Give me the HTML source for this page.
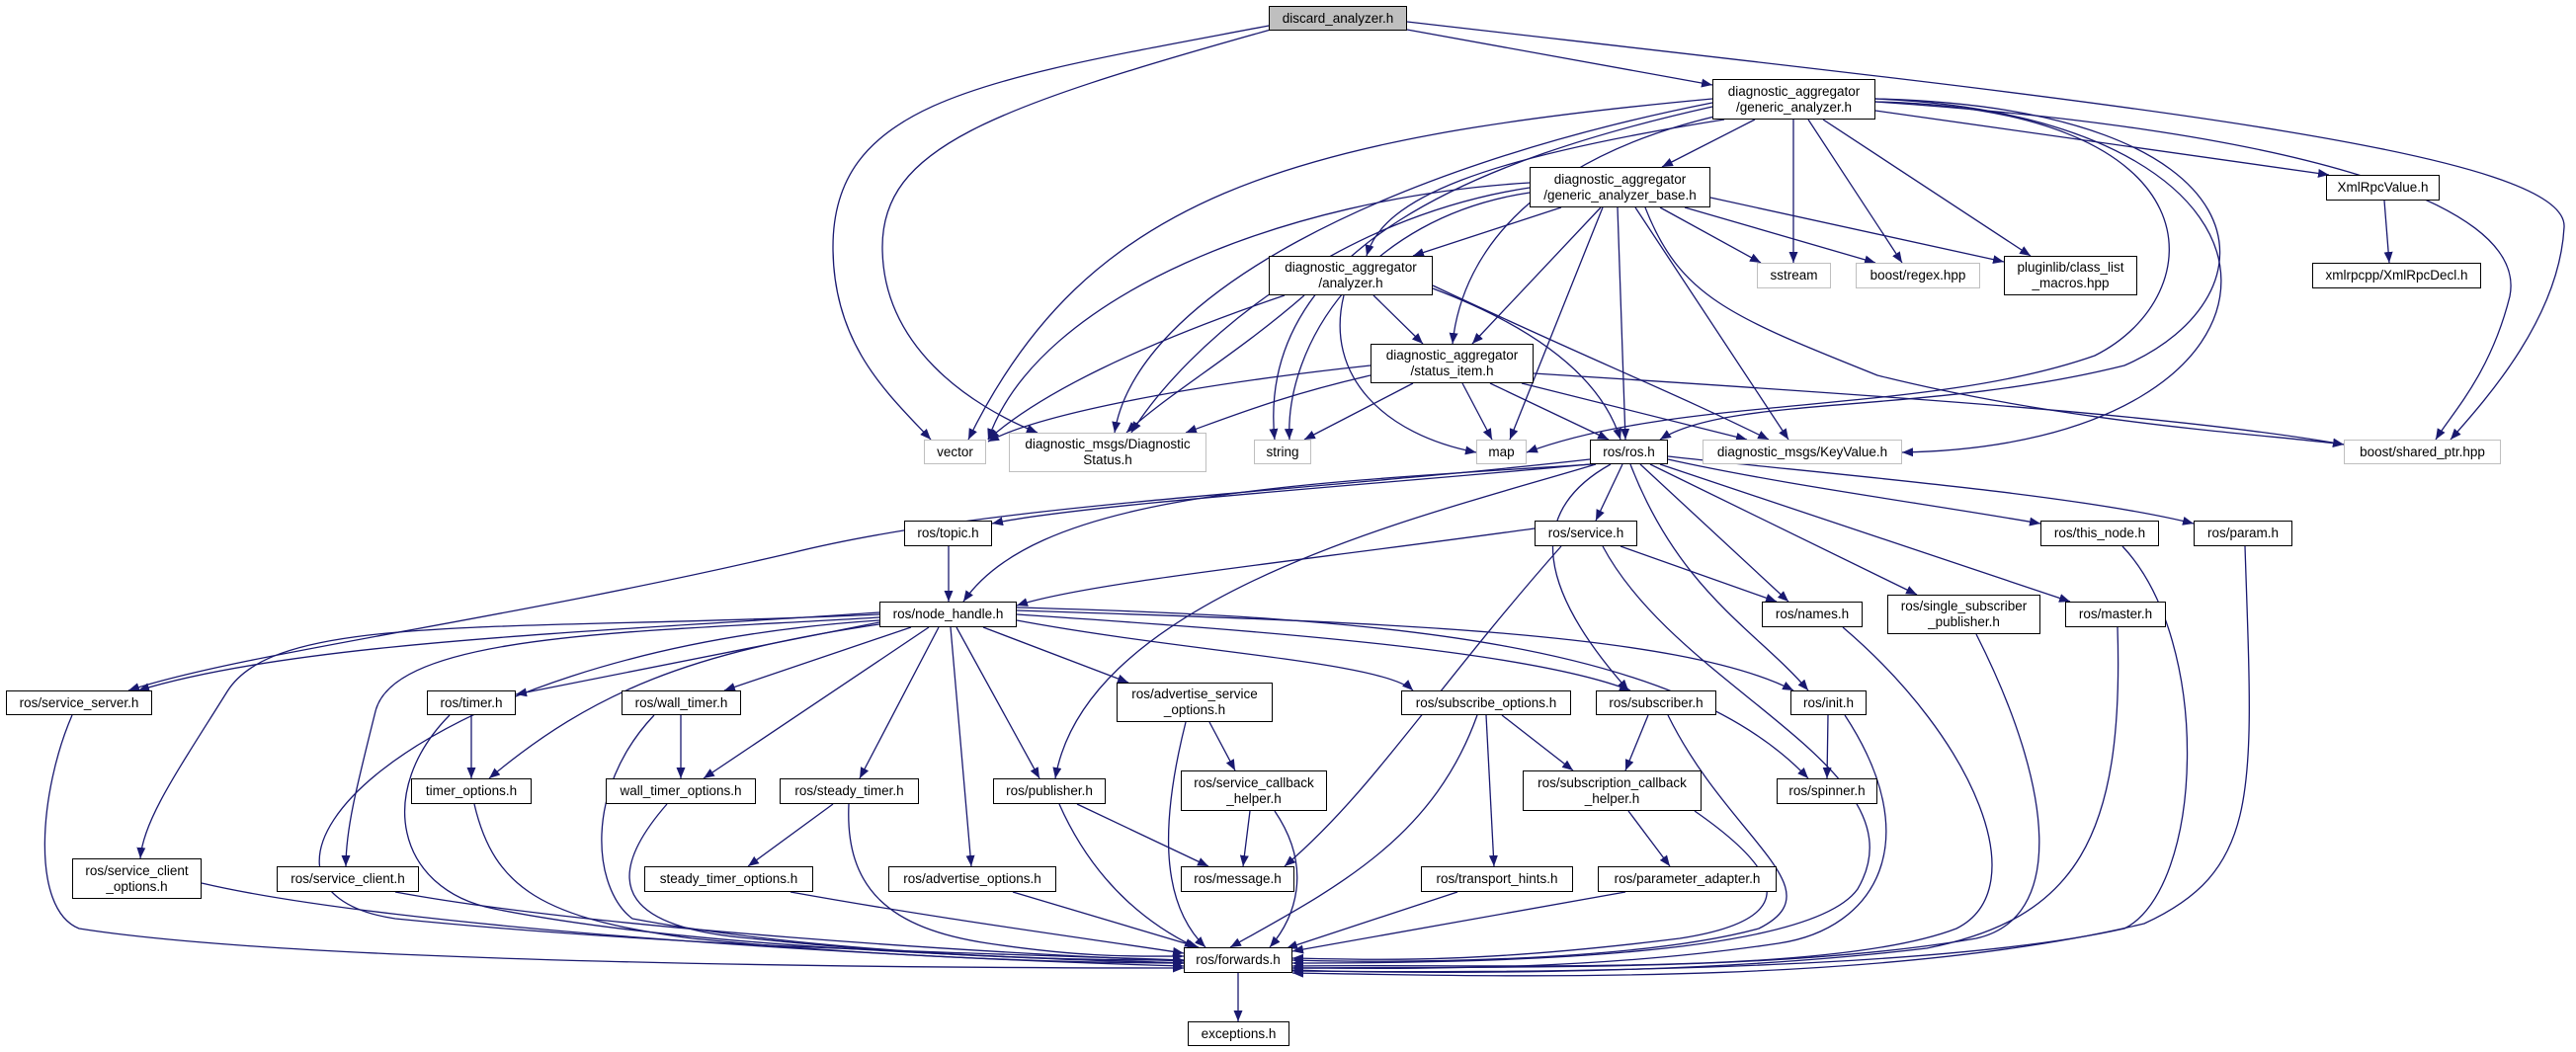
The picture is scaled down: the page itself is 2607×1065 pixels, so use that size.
<!DOCTYPE html>
<html><head><meta charset="utf-8">
<style>
html,body{margin:0;padding:0;background:#fff;}
#c{position:relative;width:2607px;height:1065px;overflow:hidden;font-family:"Liberation Sans",sans-serif;}
svg{position:absolute;left:0;top:0;}
.n{position:absolute;box-sizing:border-box;border:1.5px solid #000;background:#fff;display:flex;align-items:center;justify-content:center;text-align:center;font-size:13.5px;line-height:16px;color:#000;white-space:nowrap;}
.g{border-color:#bfbfbf;}
</style></head><body><div id="c">
<svg width="2607" height="1065" viewBox="0 0 2607 1065">
<defs><marker id="a" markerUnits="userSpaceOnUse" markerWidth="12" markerHeight="10" refX="11" refY="4.5" orient="auto"><path d="M0,0 L11,4.5 L0,9 z" fill="#191970"/></marker></defs>
<g fill="none" stroke="#191970" stroke-width="1.3" marker-end="url(#a)">
<path d="M1424,30 L1733,86"/>
<path d="M1284,26 C1000,80 843,100 843,250 C843,350 900,400 942,445"/>
<path d="M1286,30 C1000,110 893,150 893,250 C893,350 980,410 1050,438"/>
<path d="M1424,22 C2100,100 2600,150 2595,230 C2590,320 2520,400 2480,445"/>
<path d="M1733,100 C1300,140 1100,200 980,445"/>
<path d="M1733,104 C1400,170 1150,300 1128,438"/>
<path d="M1733,108 C1500,160 1270,250 1290,445"/>
<path d="M1898,103 C2250,110 2240,300 2120,360 C1950,420 1700,400 1545,458"/>
<path d="M1898,100 C2300,110 2310,300 2150,370 C1950,420 1750,400 1680,445"/>
<path d="M1898,100 C2370,120 2350,450 1925,458"/>
<path d="M1898,103 C2300,130 2560,200 2540,300 C2520,380 2480,420 2465,445"/>
<path d="M1776,121 L1682,169"/>
<path d="M1745,121 C1500,160 1400,200 1383,259"/>
<path d="M1735,118 C1560,160 1480,250 1470,348"/>
<path d="M1815,121 L1815,266"/>
<path d="M1830,121 L1925,266"/>
<path d="M1845,121 L2055,259"/>
<path d="M1898,112 L2357,177"/>
<path d="M1580,210 L1430,259"/>
<path d="M1620,210 L1490,348"/>
<path d="M1548,185 C1300,200 1050,300 1000,445"/>
<path d="M1548,190 C1350,220 1200,350 1145,438"/>
<path d="M1548,195 C1380,220 1300,350 1305,445"/>
<path d="M1622,210 L1528,445"/>
<path d="M1637,210 L1645,445"/>
<path d="M1655,210 L1810,445"/>
<path d="M1680,210 L1782,266"/>
<path d="M1705,210 L1898,266"/>
<path d="M1731,200 L2028,265"/>
<path d="M1665,210 C1700,300 1750,320 1900,380 C2100,430 2300,440 2372,450"/>
<path d="M1390,299 L1440,348"/>
<path d="M1300,299 C1150,350 1050,400 1000,445"/>
<path d="M1320,299 C1250,360 1180,400 1140,438"/>
<path d="M1360,299 C1340,380 1400,440 1494,458"/>
<path d="M1450,292 C1550,330 1620,380 1640,445"/>
<path d="M1450,289 C1600,360 1700,400 1790,445"/>
<path d="M1387,370 C1200,390 1050,420 1000,447"/>
<path d="M1387,380 C1300,400 1250,420 1200,438"/>
<path d="M1430,388 L1320,445"/>
<path d="M1480,388 L1510,445"/>
<path d="M1508,388 L1628,445"/>
<path d="M1540,388 L1768,445"/>
<path d="M1552,378 C1900,400 2200,420 2372,450"/>
<path d="M2413,203 L2418,266"/>
<path d="M1609,465 C1300,500 1000,510 800,560 C500,630 250,660 130,699"/>
<path d="M1609,470 C1400,490 1100,510 1004,530"/>
<path d="M1612,470 C1300,490 1050,500 975,609"/>
<path d="M1615,470 C1450,520 1100,600 1068,788"/>
<path d="M1642,470 L1615,527"/>
<path d="M1630,470 C1540,520 1560,600 1648,699"/>
<path d="M1660,470 L1810,609"/>
<path d="M1650,470 C1700,600 1780,640 1830,699"/>
<path d="M1670,470 L1940,602"/>
<path d="M1680,470 L2095,609"/>
<path d="M1688,465 C1800,490 1950,510 2065,530"/>
<path d="M1688,462 C1850,480 2100,500 2220,530"/>
<path d="M1553,535 C1300,570 1100,590 1029,613"/>
<path d="M1640,553 L1798,609"/>
<path d="M1580,553 C1450,700 1390,800 1300,877"/>
<path d="M1622,553 C1700,700 1950,780 1880,900 C1830,970 1500,975 1308,975"/>
<path d="M1865,635 C2000,750 2060,900 1980,940 C1850,990 1500,975 1308,978"/>
<path d="M2000,642 C2080,800 2090,930 2000,950 C1800,985 1500,978 1308,980"/>
<path d="M2143,635 C2150,850 2100,930 1950,960 C1700,990 1400,985 1308,982"/>
<path d="M2148,553 C2240,650 2230,900 2150,940 C1950,985 1500,985 1308,983"/>
<path d="M2272,553 C2280,800 2290,880 2170,935 C1900,1000 1500,988 1308,985"/>
<path d="M890,620 C600,640 300,650 140,699"/>
<path d="M890,622 C500,640 280,620 230,700 C180,780 145,830 142,869"/>
<path d="M890,625 C650,640 400,640 380,720 C360,800 350,840 350,877"/>
<path d="M890,630 L522,703"/>
<path d="M890,632 C700,660 600,700 495,788"/>
<path d="M922,635 L733,699"/>
<path d="M940,635 L712,788"/>
<path d="M950,635 L870,788"/>
<path d="M962,635 L983,877"/>
<path d="M968,635 L1052,788"/>
<path d="M995,635 L1142,691"/>
<path d="M1029,628 C1200,660 1400,670 1430,699"/>
<path d="M1029,622 C1300,640 1550,660 1650,699"/>
<path d="M1029,618 C1400,630 1700,640 1815,699"/>
<path d="M1029,615 C1400,625 1700,650 1830,788"/>
<path d="M890,628 C400,660 200,900 400,930 C700,960 1000,965 1198,972"/>
<path d="M960,553 L960,609"/>
<path d="M73,724 C40,800 30,920 80,940 C300,975 900,980 1198,980"/>
<path d="M477,724 L477,788"/>
<path d="M455,724 C380,800 400,900 500,920 C700,960 1000,968 1198,975"/>
<path d="M689,724 L689,788"/>
<path d="M662,724 C590,800 600,900 640,930 C800,960 1000,970 1198,975"/>
<path d="M1224,731 L1250,780"/>
<path d="M1200,731 C1170,850 1180,920 1220,959"/>
<path d="M1520,724 L1592,780"/>
<path d="M1504,724 L1512,877"/>
<path d="M1495,724 C1450,850 1350,900 1245,959"/>
<path d="M1668,724 L1645,780"/>
<path d="M1688,724 C1750,850 1860,900 1780,940 C1650,975 1400,975 1308,972"/>
<path d="M1850,724 L1849,788"/>
<path d="M1867,724 C1950,850 1900,940 1800,955 C1600,985 1400,980 1308,980"/>
<path d="M480,814 C500,900 550,930 700,950 C900,970 1100,975 1198,975"/>
<path d="M675,814 C600,900 640,940 760,950 C950,970 1100,972 1198,972"/>
<path d="M843,814 L757,877"/>
<path d="M859,814 C855,900 900,940 1000,955 C1100,970 1150,968 1198,968"/>
<path d="M1090,814 L1223,877"/>
<path d="M1072,814 C1110,900 1170,940 1210,959"/>
<path d="M1265,821 L1258,877"/>
<path d="M1290,821 C1330,880 1310,930 1285,959"/>
<path d="M1648,821 L1690,877"/>
<path d="M1715,821 C1800,880 1830,930 1700,950 C1500,975 1400,972 1308,970"/>
<path d="M204,894 C400,940 900,970 1198,978"/>
<path d="M400,903 C600,940 1000,965 1198,973"/>
<path d="M800,903 C950,930 1100,950 1198,965"/>
<path d="M1025,903 L1213,959"/>
<path d="M1475,903 L1302,960"/>
<path d="M1645,903 L1308,963"/>
<path d="M1253,985 L1253,1034"/>
</g></svg>
<div class="n" style="left:1284px;top:6px;width:140px;height:25px;background:#bfbfbf;">discard_analyzer.h</div>
<div class="n" style="left:1733px;top:80px;width:165px;height:41px;">diagnostic_aggregator<br>/generic_analyzer.h</div>
<div class="n" style="left:1548px;top:169px;width:183px;height:41px;">diagnostic_aggregator<br>/generic_analyzer_base.h</div>
<div class="n" style="left:1284px;top:259px;width:166px;height:40px;">diagnostic_aggregator<br>/analyzer.h</div>
<div class="n" style="left:1387px;top:348px;width:165px;height:40px;">diagnostic_aggregator<br>/status_item.h</div>
<div class="n g" style="left:1778px;top:266px;width:75px;height:26px;">sstream</div>
<div class="n g" style="left:1878px;top:266px;width:126px;height:26px;">boost/regex.hpp</div>
<div class="n" style="left:2028px;top:259px;width:135px;height:40px;">pluginlib/class_list<br>_macros.hpp</div>
<div class="n" style="left:2354px;top:177px;width:115px;height:26px;">XmlRpcValue.h</div>
<div class="n" style="left:2340px;top:266px;width:171px;height:26px;">xmlrpcpp/XmlRpcDecl.h</div>
<div class="n g" style="left:935px;top:445px;width:63px;height:25px;">vector</div>
<div class="n g" style="left:1021px;top:438px;width:200px;height:40px;">diagnostic_msgs/Diagnostic<br>Status.h</div>
<div class="n g" style="left:1269px;top:445px;width:58px;height:25px;">string</div>
<div class="n g" style="left:1494px;top:445px;width:51px;height:25px;">map</div>
<div class="n" style="left:1609px;top:445px;width:79px;height:25px;">ros/ros.h</div>
<div class="n g" style="left:1723px;top:445px;width:202px;height:25px;">diagnostic_msgs/KeyValue.h</div>
<div class="n g" style="left:2372px;top:445px;width:159px;height:25px;">boost/shared_ptr.hpp</div>
<div class="n" style="left:915px;top:527px;width:89px;height:26px;">ros/topic.h</div>
<div class="n" style="left:1553px;top:527px;width:104px;height:26px;">ros/service.h</div>
<div class="n" style="left:2065px;top:527px;width:120px;height:26px;">ros/this_node.h</div>
<div class="n" style="left:2220px;top:527px;width:100px;height:26px;">ros/param.h</div>
<div class="n" style="left:890px;top:609px;width:139px;height:26px;">ros/node_handle.h</div>
<div class="n" style="left:1783px;top:609px;width:102px;height:26px;">ros/names.h</div>
<div class="n" style="left:1910px;top:602px;width:155px;height:40px;">ros/single_subscriber<br>_publisher.h</div>
<div class="n" style="left:2090px;top:609px;width:102px;height:26px;">ros/master.h</div>
<div class="n" style="left:6px;top:699px;width:148px;height:25px;">ros/service_server.h</div>
<div class="n" style="left:432px;top:699px;width:90px;height:25px;">ros/timer.h</div>
<div class="n" style="left:629px;top:699px;width:121px;height:25px;">ros/wall_timer.h</div>
<div class="n" style="left:1130px;top:691px;width:158px;height:40px;">ros/advertise_service<br>_options.h</div>
<div class="n" style="left:1418px;top:699px;width:172px;height:25px;">ros/subscribe_options.h</div>
<div class="n" style="left:1615px;top:699px;width:122px;height:25px;">ros/subscriber.h</div>
<div class="n" style="left:1812px;top:699px;width:77px;height:25px;">ros/init.h</div>
<div class="n" style="left:416px;top:788px;width:122px;height:26px;">timer_options.h</div>
<div class="n" style="left:613px;top:788px;width:152px;height:26px;">wall_timer_options.h</div>
<div class="n" style="left:789px;top:788px;width:141px;height:26px;">ros/steady_timer.h</div>
<div class="n" style="left:1005px;top:788px;width:114px;height:26px;">ros/publisher.h</div>
<div class="n" style="left:1195px;top:780px;width:148px;height:41px;">ros/service_callback<br>_helper.h</div>
<div class="n" style="left:1541px;top:780px;width:181px;height:41px;">ros/subscription_callback<br>_helper.h</div>
<div class="n" style="left:1798px;top:788px;width:102px;height:26px;">ros/spinner.h</div>
<div class="n" style="left:73px;top:869px;width:131px;height:41px;">ros/service_client<br>_options.h</div>
<div class="n" style="left:280px;top:877px;width:144px;height:26px;">ros/service_client.h</div>
<div class="n" style="left:652px;top:877px;width:171px;height:26px;">steady_timer_options.h</div>
<div class="n" style="left:899px;top:877px;width:170px;height:26px;">ros/advertise_options.h</div>
<div class="n" style="left:1195px;top:877px;width:115px;height:26px;">ros/message.h</div>
<div class="n" style="left:1438px;top:877px;width:154px;height:26px;">ros/transport_hints.h</div>
<div class="n" style="left:1617px;top:877px;width:181px;height:26px;">ros/parameter_adapter.h</div>
<div class="n" style="left:1198px;top:959px;width:110px;height:26px;">ros/forwards.h</div>
<div class="n" style="left:1202px;top:1034px;width:103px;height:25px;">exceptions.h</div>
</div></body></html>
